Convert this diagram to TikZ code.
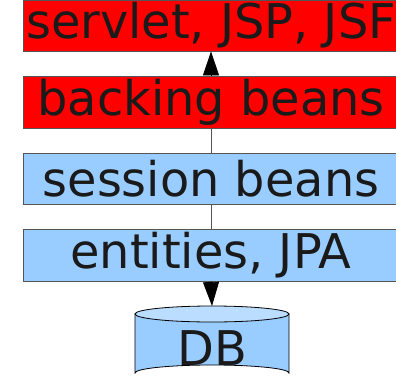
\documentclass[tikz,border=0pt]{standalone}
\usepackage{fontspec}
\setmainfont{DejaVu Sans}
\usetikzlibrary{arrows.meta}
\definecolor{layerred}{HTML}{FF0000}
\definecolor{layerblue}{HTML}{99CCFF}
\definecolor{dbtop}{HTML}{BBDDFF}
\definecolor{txt}{HTML}{1A1A1A}
\definecolor{edge}{HTML}{555555}
\begin{document}
\begin{tikzpicture}[x=1bp,y=-1bp,
  layer/.style={draw=edge, line width=0.8bp, minimum width=376bp, inner sep=0pt,
    text=txt, font=\fontsize{48}{48}\selectfont},
  link/.style={draw=edge, line width=0.8bp},
  tip/.style={-{Triangle[width=16bp,length=24bp]}, draw=black, line width=0.8bp}]
\clip (0,0) rectangle (396,384);
\node[layer, fill=layerred, minimum height=51bp] (web) at (211,25.5) {servlet, JSP, JSF};
\node[layer, fill=layerred, minimum height=52bp] (backing) at (211,102) {backing beans};
\node[layer, fill=layerblue, minimum height=51bp] (session) at (211,178.5) {session beans};
\node[layer, fill=layerblue, minimum height=52bp] (entities) at (211,255) {entities, JPA};
% database cylinder
\filldraw[fill=layerblue, draw=black, line width=0.8bp]
  (135,314) -- (135,373) arc[start angle=180, end angle=360, x radius=77, y radius=8]
  -- (289,314) -- cycle;
\filldraw[fill=dbtop, draw=black, line width=0.8bp] (212,314) ellipse[x radius=77, y radius=8];
\coordinate (dbtop) at (212,306);
\node[text=txt, font=\fontsize{48}{48}\selectfont, inner sep=0pt] (db) at (212,348) {DB};
% connectors
\draw[link] (session.north -| backing.south) -- (backing.south -| session.north);
\draw[link] (entities.north) -- (session.south);
\draw[tip] (backing.north) -- (web.south);
\draw[tip] (entities.south) -- (dbtop);
\end{tikzpicture}
\end{document}
